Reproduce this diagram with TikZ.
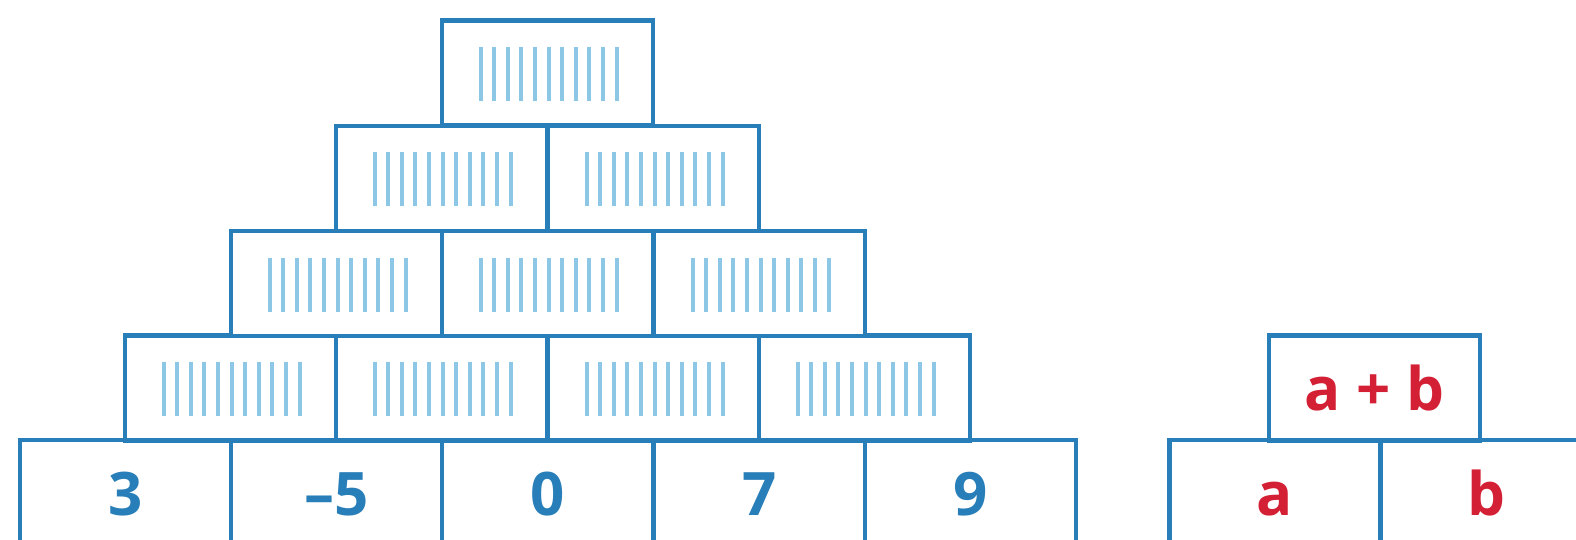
\documentclass[tikz,border=0pt]{standalone}
\usepackage{fontspec}
\setmainfont{Open Sans}
\definecolor{boxblue}{RGB}{40,126,184}
\definecolor{hatchblue}{RGB}{140,200,230}
\definecolor{numred}{RGB}{212,32,52}
\begin{document}
\begin{tikzpicture}[x=1pt,y=-1pt,
  cell/.style={draw=boxblue,line width=4.5pt,fill=white,minimum width=211pt,minimum height=105pt,inner sep=0pt,
    text height=45pt,text depth=0pt,
    font=\fontsize{60}{60}\selectfont\bfseries},
  numcell/.style={cell,text=boxblue},
  redcell/.style={cell,text=numred},
  hatchcell/.style={cell,path picture={
    \foreach \i in {0,...,10}{
      \draw[hatchblue,line width=4pt] ([xshift={-67pt+13.6pt*\i},yshift=-28pt]path picture bounding box.center) -- ++(0,54pt);
    }}}
]
\useasboundingbox (0,0) rectangle (1576,540);
% bottom row
\node[numcell] (b1) at (125.5,492.5) {3};
\node[numcell] (b2) at (336.5,492.5) {–5};
\node[numcell] (b3) at (547.5,492.5) {0};
\node[numcell] (b4) at (759.5,492.5) {7};
\node[numcell] (b5) at (970.5,492.5) {9};
% row 4
\node[hatchcell] (r41) at (230.5,388) {};
\node[hatchcell] (r42) at (441.5,388) {};
\node[hatchcell] (r43) at (653.5,388) {};
\node[hatchcell] (r44) at (864.5,388) {};
% row 3
\node[hatchcell] (r31) at (336.5,283.5) {};
\node[hatchcell] (r32) at (547.5,283.5) {};
\node[hatchcell] (r33) at (759.5,283.5) {};
% row 2
\node[hatchcell] (r21) at (441.5,178.5) {};
\node[hatchcell] (r22) at (653.5,178.5) {};
% row 1
\node[hatchcell] (r11) at (547.5,73) {};
% legend
\node[redcell] (la) at (1275,492.5) {a};
\node[redcell] (lb) at (1486,492.5) {b};
\node[redcell] (lab) at (1374.5,388) {a + b};
\end{tikzpicture}
\end{document}
